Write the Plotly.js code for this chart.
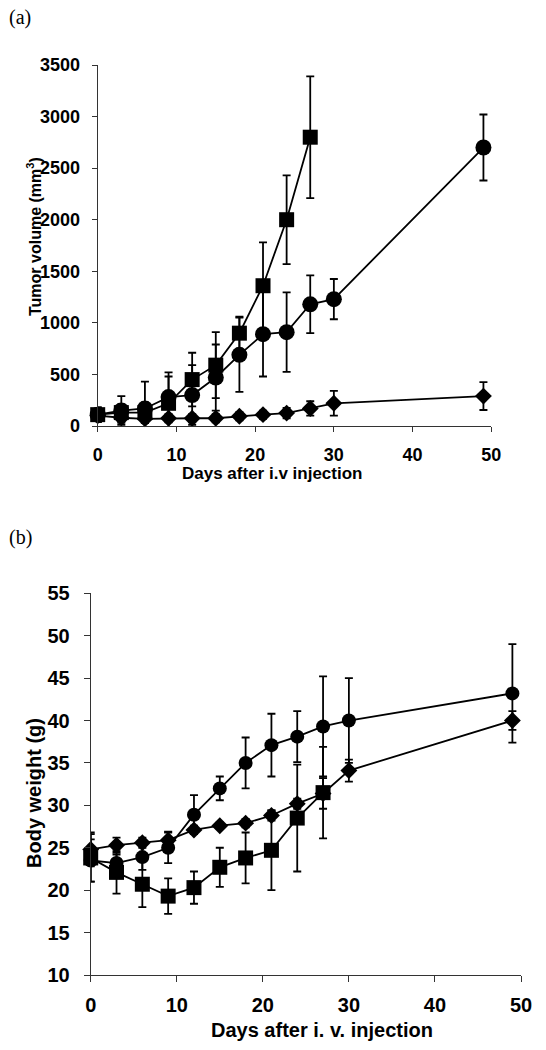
<!DOCTYPE html>
<html>
<head>
<meta charset="utf-8">
<script src="https://cdn.plot.ly/plotly-3.0.1.min.js"></script>
<style>html,body{margin:0;padding:0;background:#fff;}#chart{width:546px;height:1050px;}</style>
</head>
<body>
<div id="chart"></div>
<script>
// ---- data ----
var days = [0, 3, 6, 9, 12, 15, 18, 21, 24, 27, 30, 49];
var daysShort = [0, 3, 6, 9, 12, 15, 18, 21, 24, 27];

// (a) tumor volume (mm3)
var tumorCircle = [110, 150, 170, 280, 300, 470, 690, 890, 910, 1180, 1230, 2700];
var tumorCircleErr = [70, 140, 260, 200, 290, 320, 360, 410, 385, 280, 195, 320];
var tumorSquare = [110, 130, 130, 220, 450, 590, 900, 1360, 2000, 2800];
var tumorSquareErr = [70, 80, 100, 300, 260, 320, 160, 420, 430, 590];
var tumorDiamond = [100, 80, 70, 75, 75, 75, 95, 110, 125, 170, 220, 290];
var tumorDiamondErr = [60, 50, 40, 40, 40, 40, 40, 40, 50, 70, 120, 135];

// (b) body weight (g)
var bwCircle = [23.5, 23.2, 23.9, 25.0, 28.9, 32.0, 35.0, 37.1, 38.1, 39.3, 40.0, 43.2];
var bwCircleErr = [2.5, 1.0, 1.5, 1.8, 2.3, 1.4, 3.0, 3.7, 3.0, 5.9, 5.0, 5.8];
var bwDiamond = [24.8, 25.3, 25.6, 25.9, 27.1, 27.6, 27.9, 28.8, 30.2, 31.4, 34.1, 40.0];
var bwDiamondErr = [2.0, 0.9, 0.6, 1.0, 0.5, 0.4, 0.5, 0.6, 0.6, 1.8, 1.3, 1.1];
var bwSquare = [23.8, 22.1, 20.7, 19.3, 20.3, 22.7, 23.8, 24.7, 28.5, 31.5];
var bwSquareErr = [2.8, 2.5, 2.7, 2.1, 1.9, 2.3, 3.0, 4.7, 6.3, 5.4];

var xTicks = [0, 10, 20, 30, 40, 50];
var tumorTicks = [0, 500, 1000, 1500, 2000, 2500, 3000, 3500];
var bwTicks = [10, 15, 20, 25, 30, 35, 40, 45, 50, 55];

// ---- helpers ----
function series(x, y, err, sym, size, xa, ya) {
  return {
    type: 'scatter', mode: 'lines+markers', x: x, y: y,
    xaxis: xa, yaxis: ya, cliponaxis: false,
    line: {color: '#000', width: 1.8},
    marker: {symbol: sym, size: size, color: '#000', line: {width: 0}},
    error_y: {type: 'data', array: err, visible: true, color: '#000', thickness: 1.8, width: 4},
    hoverinfo: 'x+y'
  };
}

var data = [
  series(days, tumorDiamond, tumorDiamondErr, 'diamond', 13, 'x', 'y'),
  series(days, tumorCircle, tumorCircleErr, 'circle', 16, 'x', 'y'),
  series(daysShort, tumorSquare, tumorSquareErr, 'square', 15, 'x', 'y'),
  series(daysShort, bwSquare, bwSquareErr, 'square', 15, 'x2', 'y2'),
  series(days, bwDiamond, bwDiamondErr, 'diamond', 13, 'x2', 'y2'),
  series(days, bwCircle, bwCircleErr, 'circle', 14, 'x2', 'y2')
];

var axCol = '#333';
var tickFontA = {family: 'Liberation Sans, Arial, sans-serif', size: 18, color: '#000', weight: 'bold'};
var tickFontB = {family: 'Liberation Sans, Arial, sans-serif', size: 20, color: '#000', weight: 'bold'};
var titleFont = function (s) { return {family: 'Liberation Sans, Arial, sans-serif', size: s, color: '#000', weight: 'bold'}; };

var domAx = [97.7 / 546, 491.3 / 546];
var domAy = [1 - 426 / 1050, 1 - 65 / 1050];
var domBx = [90.7 / 546, 521 / 546];
var domBy = [1 - 975 / 1050, 1 - 593.3 / 1050];

var layout = {
  width: 546, height: 1050,
  margin: {l: 0, r: 0, t: 0, b: 0},
  paper_bgcolor: '#fff', plot_bgcolor: '#fff',
  showlegend: false,
  xaxis: {domain: domAx, anchor: 'y', range: [0, 50], tickvals: xTicks,
    ticks: 'outside', ticklen: 5, tickwidth: 1, tickcolor: axCol,
    showline: true, linecolor: axCol, linewidth: 1, showgrid: false, zeroline: false,
    tickfont: tickFontA, ticklabelstandoff: 7, fixedrange: true},
  yaxis: {domain: domAy, anchor: 'x', range: [0, 3500], tickvals: tumorTicks,
    ticks: 'outside', ticklen: 5, tickwidth: 1, tickcolor: axCol,
    showline: true, linecolor: axCol, linewidth: 1, showgrid: false, zeroline: false,
    tickfont: tickFontA, ticklabelstandoff: 8, fixedrange: true},
  xaxis3: {domain: domAx, anchor: 'y', overlaying: 'x', range: [0, 50], tickvals: xTicks,
    ticks: 'inside', ticklen: 5, tickwidth: 1, tickcolor: axCol, showticklabels: false,
    showline: false, showgrid: false, zeroline: false, fixedrange: true},
  yaxis3: {domain: domAy, anchor: 'x', overlaying: 'y', range: [0, 3500], tickvals: tumorTicks,
    ticks: 'inside', ticklen: 5, tickwidth: 1, tickcolor: axCol, showticklabels: false,
    showline: false, showgrid: false, zeroline: false, fixedrange: true},
  xaxis2: {domain: domBx, anchor: 'y2', range: [0, 50], tickvals: xTicks,
    ticks: 'outside', ticklen: 6, tickwidth: 1, tickcolor: axCol,
    showline: true, linecolor: axCol, linewidth: 1, showgrid: false, zeroline: false,
    tickfont: tickFontB, ticklabelstandoff: 6, fixedrange: true},
  yaxis2: {domain: domBy, anchor: 'x2', range: [10, 55], tickvals: bwTicks,
    ticks: 'outside', ticklen: 6, tickwidth: 1, tickcolor: axCol,
    showline: true, linecolor: axCol, linewidth: 1, showgrid: false, zeroline: false,
    tickfont: tickFontB, ticklabelstandoff: 10, fixedrange: true},
  annotations: [
    {text: '(a)', xref: 'paper', yref: 'paper', x: 20 / 546, y: 1 - 17 / 1050, xanchor: 'center', yanchor: 'middle',
      showarrow: false, font: {family: 'Liberation Serif, Times New Roman, serif', size: 20, color: '#000'}},
    {text: '(b)', xref: 'paper', yref: 'paper', x: 20 / 546, y: 1 - 537 / 1050, xanchor: 'center', yanchor: 'middle',
      showarrow: false, font: {family: 'Liberation Serif, Times New Roman, serif', size: 20, color: '#000'}},
    {text: 'Days after i.v injection', xref: 'paper', yref: 'paper', x: 271.7 / 546, y: 1 - 474 / 1050,
      xanchor: 'center', yanchor: 'middle', showarrow: false, font: titleFont(17)},
    {text: 'Tumor volume (mm<sup>3</sup>)', xref: 'paper', yref: 'paper', x: 34 / 546, y: 1 - 237 / 1050,
      xanchor: 'center', yanchor: 'middle', textangle: -90, showarrow: false, font: titleFont(16)},
    {text: 'Days after i. v. injection', xref: 'paper', yref: 'paper', x: 322 / 546, y: 1 - 1030 / 1050,
      xanchor: 'center', yanchor: 'middle', showarrow: false, font: titleFont(20)},
    {text: 'Body weight (g)', xref: 'paper', yref: 'paper', x: 34 / 546, y: 1 - 793 / 1050,
      xanchor: 'center', yanchor: 'middle', textangle: -90, showarrow: false, font: titleFont(20)}
  ]
};

Plotly.newPlot('chart', data, layout, {displayModeBar: false, staticPlot: true});
</script>
</body>
</html>
